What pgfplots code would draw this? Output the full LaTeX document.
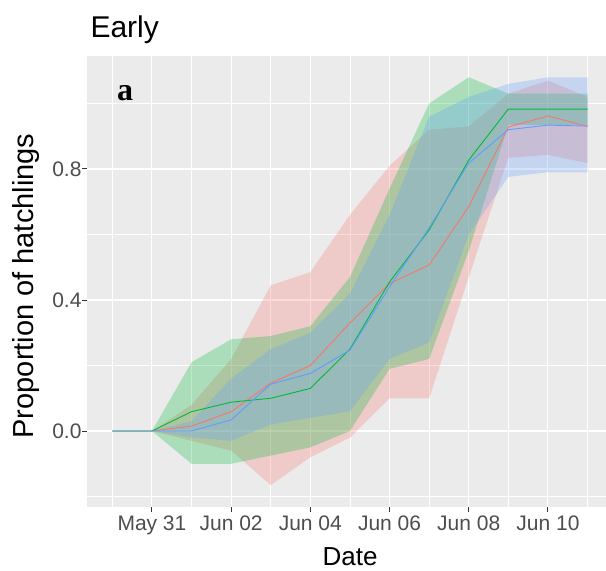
\documentclass[border=0pt]{standalone}
\usepackage{pgfplots}
\pgfplotsset{compat=1.18}
\usepackage{pgfplotstable}
\usepgfplotslibrary{fillbetween}
\usepackage{fontspec}
\setmainfont{Liberation Sans}
\newfontfamily\panelserif{Liberation Serif}

\definecolor{panelgrey}{HTML}{EBEBEB}
\definecolor{ggred}{HTML}{F8766D}
\definecolor{gggreen}{HTML}{00BA38}
\definecolor{ggblue}{HTML}{619CFF}
\definecolor{ticktext}{HTML}{4D4D4D}
\definecolor{tickmark}{HTML}{333333}

% day 0 = May 31; l/m/u = lower band, mean, upper band
\pgfplotstableread{
d   rl     rm     ru     gl     gm     gu     bl     bm     bu
-1  0      0      0      0      0      0      0      0      0
0   0      0      0      0      0      0      0      0      0
1   -0.03  0.015  0.08   -0.10  0.059  0.21   -0.02  0.0    0.03
2   -0.06  0.059  0.22   -0.10  0.088  0.28   -0.03  0.034  0.16
3   -0.165 0.146  0.445  -0.075 0.10   0.29   0.02   0.143  0.25
4   -0.08  0.20   0.485  -0.05  0.13   0.32   0.04   0.176  0.30
5   -0.02  0.33   0.66   0.0    0.25   0.47   0.06   0.247  0.42
6   0.10   0.45   0.81   0.19   0.455  0.74   0.22   0.44   0.66
7   0.10   0.507  0.92   0.22   0.614  1.0    0.27   0.62   0.96
8   0.47   0.685  0.93   0.55   0.827  1.08   0.60   0.818  1.02
9   0.834  0.928  1.03   0.935  0.983  1.03   0.776  0.92   1.06
10  0.843  0.962  1.07   0.935  0.983  1.03   0.79   0.934  1.08
11  0.818  0.93   1.02   0.935  0.983  1.03   0.79   0.931  1.08
}\hatch

\begin{document}
\begin{tikzpicture}
\begin{axis}[
  at={(0,0)}, anchor=south west,
  scale only axis, width=519pt, height=451pt,
  xmin=-1.64, xmax=11.466, ymin=-0.232, ymax=1.145,
  axis background/.style={fill=panelgrey},
  axis line style={draw=none},
  xtick={0,2,...,10},
  xticklabels={May 31,Jun 02,Jun 04,Jun 06,Jun 08,Jun 10},
  ytick={0,0.4,0.8}, yticklabels={0.0,0.4,0.8},
  minor xtick={-1,1,...,11}, minor ytick={-0.2,0.2,0.6,1.0},
  grid=both,
  major grid style={white, line width=1.1pt},
  minor grid style={white, line width=0.5pt},
  tick align=outside, tick pos=left,
  major tick length=5pt, minor tick length=0pt,
  tick style={tickmark, line width=1pt},
  /pgf/number format/assume math mode=true,
  ticklabel style={font=\fontsize{21}{24}\selectfont, text=ticktext},
  yticklabel style={xshift=3pt},
  xlabel={Date}, ylabel={Proportion of hatchlings},
  xlabel style={at={(axis description cs:0.507,-0.1308)}, anchor=base,
    font=\fontsize{26}{30}\selectfont},
  ylabel style={at={(axis description cs:-0.104,0.49)}, anchor=base,
    font=\fontsize{29}{32}\selectfont},
  title={Early},
  title style={at={(axis description cs:0,1.0288)}, anchor=base west,
    font=\fontsize{30}{36}\selectfont},
]
% mean curves
\addplot[ggred, line width=0.9pt] table[x=d, y=rm]{\hatch};
\addplot[gggreen, line width=0.9pt] table[x=d, y=gm]{\hatch};
\addplot[ggblue, line width=0.9pt] table[x=d, y=bm]{\hatch};
% confidence bands, laid over the curves
\addplot[draw=none, name path=rU, forget plot] table[x=d, y=ru]{\hatch};
\addplot[draw=none, name path=rL, forget plot] table[x=d, y=rl]{\hatch};
\addplot[draw=none, name path=gU, forget plot] table[x=d, y=gu]{\hatch};
\addplot[draw=none, name path=gL, forget plot] table[x=d, y=gl]{\hatch};
\addplot[draw=none, name path=bU, forget plot] table[x=d, y=bu]{\hatch};
\addplot[draw=none, name path=bL, forget plot] table[x=d, y=bl]{\hatch};
\addplot[ggred, fill opacity=0.27, draw=none, forget plot] fill between[of=rU and rL];
\addplot[gggreen, fill opacity=0.27, draw=none, forget plot] fill between[of=gU and gL];
\addplot[ggblue, fill opacity=0.27, draw=none, forget plot] fill between[of=bU and bL];
\node[font=\panelserif\bfseries\fontsize{32}{36}\selectfont] at (axis cs:-0.68,1.032) {a};
\end{axis}
\pgfresetboundingbox
\useasboundingbox (-87pt,-64pt) rectangle (519pt,507pt);
\end{tikzpicture}
\end{document}
